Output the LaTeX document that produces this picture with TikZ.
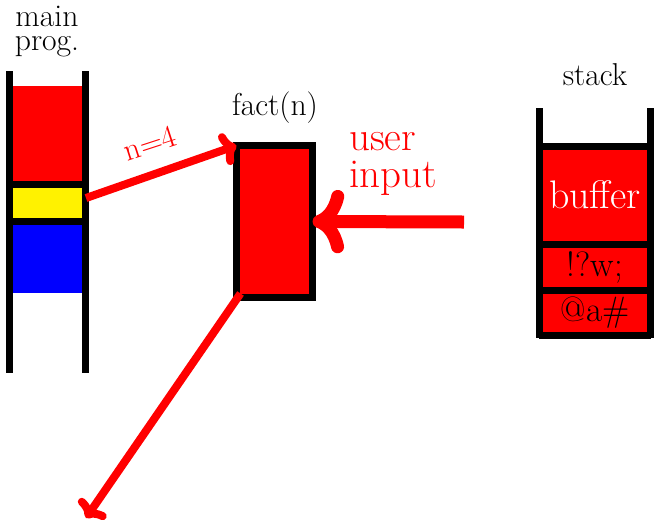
\documentclass[tikz,border=0pt]{standalone}
\usetikzlibrary{arrows.meta}

\tikzset{
  wall/.style={line width=0.21cm},
  cell/.style={inner sep=0pt, outer sep=0pt, minimum width=3.12cm},
  pointer/.style={red, line width=0.24cm, -{To[round,length=0.45cm,width=1.0cm]}},
  bigpointer/.style={red, line width=0.39cm, -{To[round,length=0.95cm,width=1.9cm]}},
  lbl/.style={font=\fontsize{27}{20}\selectfont},
}

\begin{document}
\begin{tikzpicture}[x=0.03cm, y=-0.03cm]
  \useasboundingbox (0,0) rectangle (654,523);

  % main program column
  \fill[red] (13,86) rectangle (82,182);
  \node[fill=yellow, inner sep=0pt, minimum width=2.07cm, minimum height=0.93cm] (frame) at (47.5,202.5) {};
  \fill[blue] (13,223) rectangle (82,293);
  \draw[wall] (9.5,184) -- (85.5,184);
  \draw[wall] (9.5,221) -- (85.5,221);
  \draw[wall] (9.5,71) -- (9.5,373);
  \draw[wall] (85.5,71) -- (85.5,373);
  \node[lbl, anchor=base, inner sep=0pt, align=center] (mainlbl) at (47,50) {main\\prog.};

  % the called function
  \node[draw, wall, fill=red, inner sep=0pt, outer sep=0pt, minimum width=2.28cm, minimum height=4.56cm] (fact) at (274.5,221.5) {};
  \node[lbl, anchor=base] (factlbl) at (275,115) {fact(n)};

  % stack
  \node[cell, fill=red, minimum height=2.8cm, text=white, font=\fontsize{34}{34}\selectfont] (buffer) at (595,195) {buffer};
  \node[cell, fill=red, minimum height=1.21cm, font=\fontsize{30}{30}\selectfont] (junka) at (595,267.5) {!?w;};
  \node[cell, fill=red, minimum height=1.18cm, font=\fontsize{30}{30}\selectfont] (junkb) at (595,313) {@a\#};
  \foreach \y in {146,244.5,290.5,335}
    \draw[wall] (539,\y) -- (650.5,\y);
  \draw[wall] (539,108) -- (539,338);
  \draw[wall] (650.5,108) -- (650.5,338);
  \node[lbl, anchor=base] (stacklbl) at (595,85) {stack};

  % arrows
  \coordinate (argstart) at (86,198);
  \coordinate (inputstart) at (464,222);
  \coordinate (overflow) at (86,518);
  \draw[pointer] (argstart) -- (fact.north west);
  \node[lbl, red, rotate=18] (arglbl) at (150,143) {n=4};
  \draw[bigpointer] (inputstart) -- (fact.east);
  \node[red, anchor=base west, align=left, font=\fontsize{35}{31.5}\selectfont] (inputlbl) at (345,187) {user\\input};
  \draw[pointer] ([shift={(4,-4)}]fact.south west) -- (overflow);
\end{tikzpicture}
\end{document}
